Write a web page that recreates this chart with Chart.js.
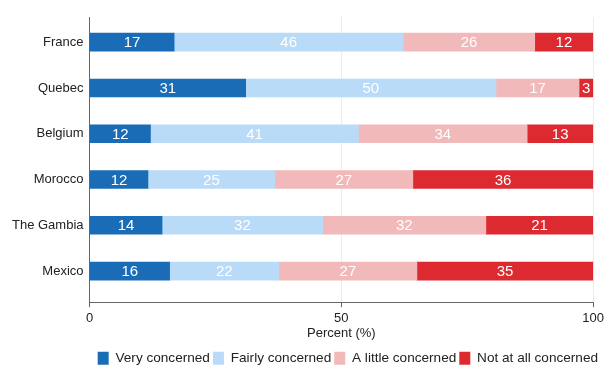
<!DOCTYPE html>
<html>
<head>
<meta charset="utf-8">
<script src="https://cdn.jsdelivr.net/npm/chart.js@4.4.0/dist/chart.umd.min.js"></script>
<style>
  html, body { margin: 0; padding: 0; background: #fff; }
  #wrap { width: 607px; height: 367px; }
</style>
</head>
<body>
<div id="wrap"><canvas id="chart"></canvas></div>
<script>
// lande og svar (procent)
const countries = ['France', 'Quebec', 'Belgium', 'Morocco', 'The Gambia', 'Mexico'];
const veryConcerned = [16.8, 31.0, 12.1, 11.6, 14.4, 15.9];
const fairlyConcerned = [45.5, 49.7, 41.3, 25.2, 31.9, 21.7];
const littleConcerned = [26.1, 16.5, 33.5, 27.4, 32.4, 27.4];
const notConcerned = [11.6, 2.8, 13.1, 35.8, 21.3, 35.0];
const xTicks = [0, 50, 100];

const font = 'Liberation Sans, Arial, sans-serif';

function toPoints(arr) {
    return arr.map((v, i) => ({ x: v, y: i }));
}

// tal midt i hver bar
const barLabels = {
    id: 'barLabels',
    afterDatasetsDraw(chart) {
        const ctx = chart.ctx;
        ctx.save();
        ctx.fillStyle = '#fff';
        ctx.font = '15px ' + font;
        ctx.textAlign = 'center';
        ctx.textBaseline = 'middle';
        chart.data.datasets.forEach((ds, d) => {
            chart.getDatasetMeta(d).data.forEach((bar, i) => {
                const p = bar.getProps(['x', 'y', 'base'], true);
                ctx.fillText(Math.round(ds.data[i].x), (p.x + p.base) / 2, p.y + 1);
            });
        });
        ctx.restore();
    }
};

// legenden skubbes lidt til venstre, så den slutter ved ca. 598px
const legendShift = {
    id: 'legendShift',
    afterLayout(chart) {
        chart.legend.right = chart.width - 6;
    }
};

let bars = new Chart(document.getElementById('chart'), {
    type: 'bar',
    data: {
        datasets: [
            { label: 'Very concerned', data: toPoints(veryConcerned), backgroundColor: '#1a6cb6' },
            { label: 'Fairly concerned', data: toPoints(fairlyConcerned), backgroundColor: '#badbf7' },
            { label: 'A little concerned', data: toPoints(littleConcerned), backgroundColor: '#f2b9ba' },
            { label: 'Not at all concerned', data: toPoints(notConcerned), backgroundColor: '#dc2a30' }
        ]
    },
    options: {
        indexAxis: 'y',
        responsive: true,
        maintainAspectRatio: false,
        animation: false,
        barThickness: 18,
        layout: { padding: { top: 17, right: -14, left: 6, bottom: -8 } },
        datasets: { bar: { borderWidth: 0 } },
        scales: {
            x: {
                type: 'linear',
                stacked: true,
                min: 0,
                max: 100,
                afterBuildTicks: (scale) => { scale.ticks = xTicks.map(v => ({ value: v })); },
                grid: { color: '#e6efef', tickColor: '#666', tickLength: 5 },
                border: { color: '#666', width: 1 },
                ticks: { color: '#222', font: { family: font, size: 13 }, padding: 3 },
                title: { display: true, text: 'Percent (%)', color: '#222', font: { family: font, size: 13 }, padding: { top: -3, bottom: 7 } }
            },
            y: {
                type: 'linear',
                stacked: true,
                reverse: true,
                offset: false,
                min: -0.55,
                max: 5.68,
                afterBuildTicks: (scale) => { scale.ticks = countries.map((c, i) => ({ value: i })); },
                grid: { display: false, drawTicks: false, offset: false },
                border: { color: '#666', width: 1 },
                ticks: {
                    color: '#222',
                    font: { family: font, size: 13 },
                    padding: 6,
                    autoSkip: false,
                    callback: (v) => countries[v]
                }
            }
        },
        plugins: {
            legend: {
                position: 'bottom',
                align: 'end',
                labels: {
                    boxWidth: 11,
                    boxHeight: 13,
                    padding: 3,
                    color: '#222',
                    font: { family: font, size: 13.6 }
                }
            },
            tooltip: { enabled: false }
        }
    },
    plugins: [barLabels, legendShift]
});
</script>
</body>
</html>
